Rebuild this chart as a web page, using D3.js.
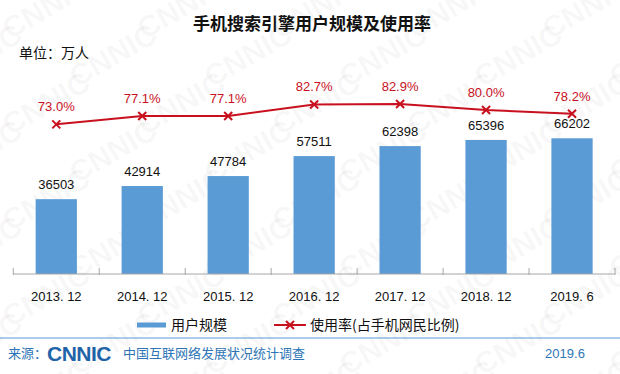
<!DOCTYPE html>
<html><head><meta charset="utf-8">
<script src="https://cdn.jsdelivr.net/npm/d3@7"></script>
<style>
html,body{margin:0;padding:0;background:#fff;}
svg{display:block;}
</style></head>
<body><svg id="c" width="620" height="374"></svg>
<script>
const categories = ["2013. 12","2014. 12","2015. 12","2016. 12","2017. 12","2018. 12","2019. 6"];
const users = [36503, 42914, 47784, 57511, 62398, 65396, 66202];
const rates = [73.0, 77.1, 77.1, 82.7, 82.9, 80.0, 78.2];
const titleText = "手机搜索引擎用户规模及使用率";
const unitText = "单位：万人";
const legendLabels = ["用户规模", "使用率(占手机网民比例)"];

const svg = d3.select("#c");
const W = 620, H = 374;
const cjk = "'Noto Sans CJK SC','Noto Sans',sans-serif";
const lat = "'Liberation Sans',Arial,sans-serif";

// watermark
const wm = svg.append("g").attr("fill", "#000").attr("fill-opacity", 0.045)
  .style("font-family", lat).style("font-weight", "bold").style("font-size", "30px");
for (let r = -1; r < 9; r++) {
  for (let c = -1; c < 8; c++) {
    const x0 = c * 135 + (r % 2) * 67 + 10, y0 = r * 48 + 40;
    wm.append("text").attr("transform", `translate(${x0},${y0}) rotate(-30)`).text("CNNIC");
  }
}

const baseY = 274, topY = 69;
const x = d3.scaleBand().domain(categories).range([13.3, 615]).paddingInner(0.52).paddingOuter(0.26);
const y = d3.scaleLinear().domain([0, 100000]).range([baseY, topY]);
const y2 = d3.scaleLinear().domain([0, 100]).range([baseY, topY]);

// title
svg.append("text").attr("x", 312).attr("y", 30).attr("text-anchor", "middle")
  .style("font-family", cjk).style("font-weight", "bold").style("font-size", "17px").attr("fill", "#111")
  .text(titleText);
svg.append("text").attr("x", 19).attr("y", 58)
  .style("font-family", cjk).style("font-size", "14px").attr("fill", "#111").text(unitText);

// bars
svg.append("g").selectAll("rect").data(users).join("rect")
  .attr("x", (d, i) => x(categories[i])).attr("width", x.bandwidth())
  .attr("y", d => y(d)).attr("height", d => baseY - y(d)).attr("fill", "#5b9bd5");

svg.append("g").selectAll("text").data(users).join("text")
  .attr("x", (d, i) => x(categories[i]) + x.bandwidth() / 2).attr("y", d => y(d) - 10)
  .attr("text-anchor", "middle").style("font-family", lat).style("font-size", "13px").attr("fill", "#111")
  .text(d => d);

// axis
const step = x.step();
const bounds = d3.range(categories.length + 1).map(i => 13.3 + i * step);
const ax = svg.append("g").attr("transform", `translate(0,${baseY})`)
  .call(d3.axisBottom(x).tickSize(0).tickPadding(18));
ax.select(".domain").attr("stroke", "#a6a6a6").attr("d", `M13.3,0H615`);
ax.selectAll(".tick text").style("font-family", lat).style("font-size", "13px").attr("fill", "#111");
ax.selectAll("line.bd").data(bounds).join("line").attr("class", "bd")
  .attr("x1", d => d).attr("x2", d => d).attr("y1", -6).attr("y2", 1).attr("stroke", "#a6a6a6");

// line
const cx = (d, i) => x(categories[i]) + x.bandwidth() / 2;
const red = "#c8101e";
svg.append("path").datum(rates)
  .attr("d", d3.line().x(cx).y(d => y2(d)))
  .attr("fill", "none").attr("stroke", red).attr("stroke-width", 2);
const mk = 4;
svg.append("g").selectAll("path.m").data(rates).join("path")
  .attr("d", (d, i) => { const px = cx(d, i), py = y2(d); return `M${px-mk},${py-mk}L${px+mk},${py+mk}M${px-mk},${py+mk}L${px+mk},${py-mk}`; })
  .attr("stroke", red).attr("stroke-width", 2);
svg.append("g").selectAll("text").data(rates).join("text")
  .attr("x", cx).attr("y", d => y2(d) - 13).attr("text-anchor", "middle")
  .style("font-family", lat).style("font-size", "13px").attr("fill", red)
  .text(d => d.toFixed(1) + "%");

// legend
const lg = svg.append("g");
lg.append("rect").attr("x", 137).attr("y", 322.5).attr("width", 29).attr("height", 5).attr("fill", "#5b9bd5");
lg.append("text").attr("x", 171).attr("y", 330).style("font-family", cjk).style("font-size", "14px").attr("fill", "#111").text(legendLabels[0]);
lg.append("line").attr("x1", 274).attr("x2", 306).attr("y1", 325).attr("y2", 325).attr("stroke", red).attr("stroke-width", 2);
lg.append("path").attr("d", `M${290-mk},${325-mk}L${290+mk},${325+mk}M${290-mk},${325+mk}L${290+mk},${325-mk}`).attr("stroke", red).attr("stroke-width", 2);
lg.append("text").attr("x", 310).attr("y", 330).style("font-family", cjk).style("font-size", "14px").attr("fill", "#111").text(legendLabels[1]);

// footer
svg.append("line").attr("x1", 0).attr("x2", W).attr("y1", 338).attr("y2", 338).attr("stroke", "#5b9bd5").attr("stroke-width", 1.2);
const blue = "#2e75b6";
svg.append("text").attr("x", 8).attr("y", 358).style("font-family", cjk).style("font-size", "13px").attr("fill", blue).text("来源：");
svg.append("text").attr("x", 47).attr("y", 361).style("font-family", lat).style("font-weight", "900").style("font-size", "21px")
  .attr("fill", "#1f64a8").attr("letter-spacing", "-0.5").text("CNNIC");
svg.append("text").attr("x", 123).attr("y", 358).style("font-family", cjk).style("font-size", "13px").attr("fill", blue).text("中国互联网络发展状况统计调查");
svg.append("text").attr("x", 565).attr("y", 358).attr("text-anchor", "middle").style("font-family", lat).style("font-size", "13px").attr("fill", blue).text("2019.6");
</script></body></html>
